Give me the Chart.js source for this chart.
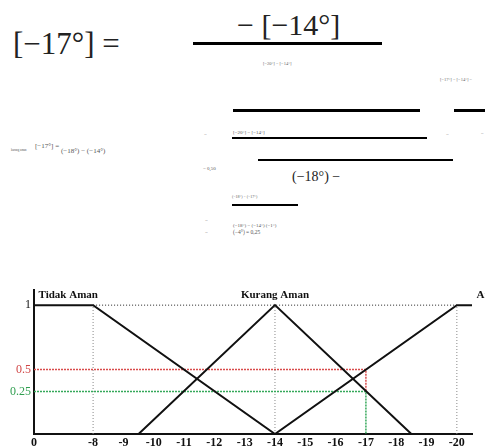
<!DOCTYPE html>
<html>
<head>
<meta charset="utf-8">
<script src="https://cdn.jsdelivr.net/npm/chart.js@4.4.1/dist/chart.umd.min.js"></script>
<style>
  body { margin: 0; width: 485px; height: 448px; background: #fff; position: relative; overflow: hidden; font-family: "Liberation Serif", serif; }
  .t { position: absolute; white-space: nowrap; line-height: 1; color: #222; transform: translateY(-50%); }
  .bar { position: absolute; background: #000; }
  #wrap { position: absolute; left: 0; top: 280px; width: 485px; height: 168px; }
</style>
</head>
<body>

<!-- the worked formula above the graph -->
<div class="t" style="left:13px;top:43px;font-size:31px;">[−17°] =</div>
<div class="t" style="left:237px;top:25px;font-size:30px;">− [−14°]</div>
<div class="bar" style="left:193px;top:42px;width:189px;height:3px;"></div>
<div class="t" style="left:263px;top:64px;font-size:4.5px;color:#666;">[−20°] − [−14°]</div>
<div class="t" style="left:440px;top:80px;font-size:4.5px;color:#666;">[−17°] − [−14°] −</div>
<div class="bar" style="left:233px;top:109px;width:187px;height:3px;"></div>
<div class="bar" style="left:454px;top:109px;width:31px;height:3px;"></div>

<div class="t" style="left:204px;top:134px;font-size:5px;color:#666;">=</div>
<div class="t" style="left:233px;top:132px;font-size:5px;color:#555;">[−20°] − [−14°]</div>
<div class="bar" style="left:232px;top:137px;width:195px;height:1.5px;"></div>
<div class="t" style="left:446px;top:134px;font-size:5px;color:#666;">=</div>
<div class="t" style="left:481px;top:133px;font-size:5px;color:#666;">−</div>
<div class="bar" style="left:258px;top:159px;width:195px;height:1.5px;"></div>
<div class="t" style="left:203px;top:168px;font-size:5px;color:#555;">= 0,50</div>
<div class="t" style="left:292px;top:177px;font-size:14px;">(−18°) −</div>

<div class="t" style="left:11px;top:150px;font-size:3px;color:#555;">kurang aman</div>
<div class="t" style="left:35px;top:146px;font-size:7px;color:#555;">[−17°] =</div>
<div class="t" style="left:61px;top:151px;font-size:7px;color:#555;">(−18°) − (−14°)</div>

<div class="t" style="left:232px;top:197px;font-size:4px;color:#555;">(−18°) − (−17°)</div>
<div class="bar" style="left:232px;top:204px;width:66px;height:2px;"></div>
<div class="t" style="left:205px;top:220px;font-size:5px;color:#555;">=</div>
<div class="t" style="left:233px;top:225px;font-size:5px;color:#555;">(−18°) − (−14°) (−1°)</div>
<div class="t" style="left:205px;top:232px;font-size:5px;color:#555;">=</div>
<div class="t" style="left:233px;top:233px;font-size:5.5px;color:#555;">(−4°) = 0,25</div>

<div id="wrap"><canvas id="myChart" width="485" height="168"></canvas></div>

<script>
// x axis: the graph is not to scale, the "0" sits just left of -8
const xOrigin = -6.05;
const xEnd = -20.5;
const xTickValues = [xOrigin, -8, -9, -10, -11, -12, -13, -14, -15, -16, -17, -18, -19, -20];
const xTickLabels = ['0', '-8', '-9', '-10', '-11', '-12', '-13', '-14', '-15', '-16', '-17', '-18', '-19', '-20'];

// y axis: the 0.25 line is drawn higher than its value in the original
const yTickValues = [0.33, 0.5, 1];
const yTickLabels = ['0.25', '0.5', '1'];
const yTickColors = ['#2f9e4f', '#d04545', '#111'];

// membership functions (x in degrees, y = degree of membership)
const tidakAmanX = [xOrigin, -8, -14];
const tidakAmanY = [1, 1, 0];
const kurangAmanX = [-9.5, -14, -18.5];
const kurangAmanY = [0, 1, 0];
const amanX = [-14, -20, xEnd];
const amanY = [0, 1, 1];

// reading at -17 degrees
const redX = [xOrigin, -17, -17];
const redY = [0.5, 0.5, 0.33];
const greenX = [xOrigin, -17, -17];
const greenY = [0.33, 0.33, 0];

const topDottedX = [-8, -20];
const topDottedY = [1, 1];
const guideXs = [-8, -14, -20];

const setNames = ['Tidak Aman', 'Kurang Aman', 'Aman'];

function pts(xs, ys) {
  return xs.map((x, i) => ({ x: x, y: ys[i] }));
}

function lineSet(xs, ys, color, width, dash) {
  return {
    data: pts(xs, ys),
    borderColor: color,
    borderWidth: width,
    borderDash: dash || [],
    pointRadius: 0,
    tension: 0,
    fill: false
  };
}

const datasets = [
  lineSet(tidakAmanX, tidakAmanY, '#111', 2),
  lineSet(kurangAmanX, kurangAmanY, '#111', 2),
  lineSet(amanX, amanY, '#111', 2),
  lineSet(topDottedX, topDottedY, '#222', 1, [1, 2]),
  lineSet(redX, redY, '#d94c4c', 1.5, [2, 1]),
  lineSet(greenX, greenY, '#35a85a', 1.5, [2, 1])
];
guideXs.forEach(g => datasets.push(lineSet([g, g], [0, 1], '#888', 1, [1, 2])));

// names of the fuzzy sets written above the top line
const setNamePlugin = {
  id: 'setNames',
  afterDatasetsDraw(chart) {
    const c = chart.ctx;
    const xs = chart.scales.x;
    const ys = chart.scales.y;
    const spots = [
      { x: -6.2, align: 'left' },
      { x: -14, align: 'center' },
      { x: -20.65, align: 'left' }
    ];
    c.save();
    c.font = 'bold 11px "Liberation Serif"';
    c.fillStyle = '#111';
    c.textBaseline = 'middle';
    setNames.forEach((name, i) => {
      c.textAlign = spots[i].align;
      c.fillText(name, xs.getPixelForValue(spots[i].x), ys.getPixelForValue(1.075));
    });
    c.restore();
  }
};

const config = {
  type: 'line',
  data: { datasets: datasets },
  options: {
    responsive: false,
    animation: false,
    devicePixelRatio: 1,
    layout: { padding: { top: 10, right: 13, left: 0, bottom: 0 } },
    plugins: { legend: { display: false }, tooltip: { enabled: false } },
    scales: {
      x: {
        type: 'linear',
        reverse: true,
        min: xEnd,
        max: xOrigin,
        afterBuildTicks: (s) => { s.ticks = xTickValues.map(v => ({ value: v })); },
        afterFit: (s) => { s.height = 14; },
        grid: { display: false, drawTicks: false },
        border: { display: true, color: '#111', width: 2 },
        ticks: {
          autoSkip: false,
          maxRotation: 0,
          padding: 2,
          color: '#111',
          font: { family: 'Liberation Serif', size: 12, weight: 'bold' },
          callback: (v, i) => xTickLabels[i]
        }
      },
      y: {
        type: 'linear',
        min: 0,
        max: 1.116,
        afterBuildTicks: (s) => { s.ticks = yTickValues.map(v => ({ value: v })); },
        afterFit: (s) => { s.width = 34; },
        grid: { display: false, drawTicks: false },
        border: { display: true, color: '#111', width: 2 },
        ticks: {
          autoSkip: false,
          padding: 3,
          color: (ctx) => yTickColors[ctx.index],
          font: { family: 'Liberation Serif', size: 12 },
          callback: (v, i) => yTickLabels[i]
        }
      }
    }
  },
  plugins: [setNamePlugin]
};

const ctx = document.getElementById('myChart').getContext('2d');
const myChart = new Chart(ctx, config);
</script>
</body>
</html>
